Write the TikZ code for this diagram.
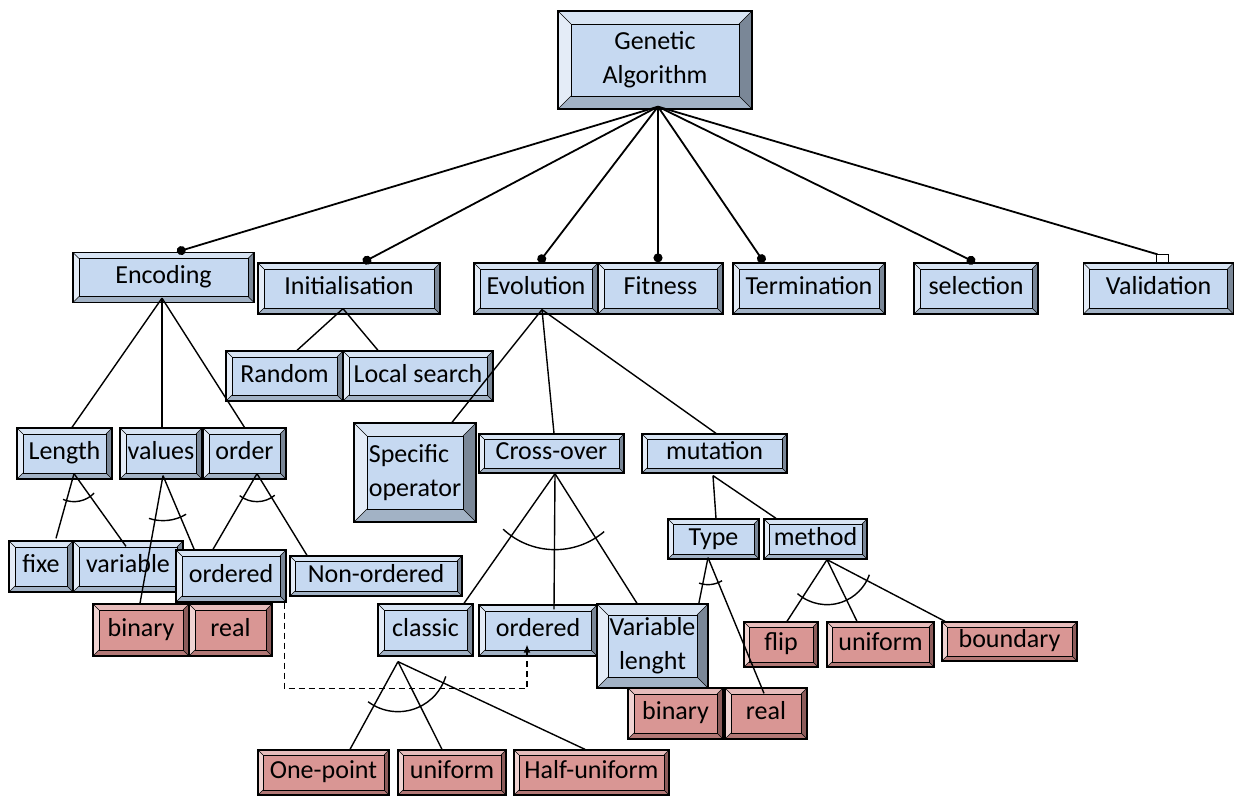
\documentclass[tikz,border=0pt]{standalone}
\usepackage{fontspec}
\setmainfont{Carlito}
\usetikzlibrary{arrows.meta,calc}

\definecolor{blF}{HTML}{C6D9F1}
\definecolor{blT}{HTML}{D8E4F3}
\definecolor{blL}{HTML}{E4ECF7}
\definecolor{blR}{HTML}{7A8797}
\definecolor{blB}{HTML}{A2B2C5}
\definecolor{rdF}{HTML}{D99694}
\definecolor{rdT}{HTML}{E6BCBB}
\definecolor{rdL}{HTML}{F0D3D2}
\definecolor{rdR}{HTML}{8C5B5A}
\definecolor{rdB}{HTML}{B27876}

\pgfdeclarelayer{front}
\pgfsetlayers{main,front}

\tikzset{
  bev/.code={\def\bw{#1}},
  hue/.code={\colorlet{bvF}{#1F}\colorlet{bvT}{#1T}\colorlet{bvL}{#1L}\colorlet{bvR}{#1R}\colorlet{bvB}{#1B}},
  bevel/.style={rectangle, draw=black, line width=1.3pt, inner sep=0pt,
    font=\fontsize{26}{34}\selectfont, bev=6pt, hue=bl,
    path picture={
      \coordinate (o1) at (path picture bounding box.north west);
      \coordinate (o2) at (path picture bounding box.north east);
      \coordinate (o3) at (path picture bounding box.south east);
      \coordinate (o4) at (path picture bounding box.south west);
      \coordinate (i1) at ([shift={(\bw,-\bw)}]o1);
      \coordinate (i2) at ([shift={(-\bw,-\bw)}]o2);
      \coordinate (i3) at ([shift={(-\bw,\bw)}]o3);
      \coordinate (i4) at ([shift={(\bw,\bw)}]o4);
      \fill[bvT] (o1) -- (o2) -- (i2) -- (i1) -- cycle;
      \fill[bvR] (o2) -- (o3) -- (i3) -- (i2) -- cycle;
      \fill[bvB] (o3) -- (o4) -- (i4) -- (i3) -- cycle;
      \fill[bvL] (o4) -- (o1) -- (i1) -- (i4) -- cycle;
      \draw[line width=0.5pt] (o1) -- (i1) (o2) -- (i2) (o3) -- (i3) (o4) -- (i4);
      \draw[line width=0.9pt, fill=bvF] (i1) rectangle (i3);
    }},
  fbox/.style={bevel, text height=18pt, text depth=6pt},
  leaf/.style={fbox, hue=rd},
  link/.style={line width=1.4pt},
  toplink/.style={line width=1.8pt},
  mand/.style={toplink, -{Circle[length=9pt]}},
  req/.style={line width=1.4pt, dash pattern=on 6pt off 4pt, -{Latex[length=8pt,width=7pt]}},
}

% arc of an alternative group: apex, left child, right child, radius
\newcommand\altarc[4]{%
  \draw[link] let \p1=(#1), \p2=(#2), \p3=(#3),
    \n1={atan2(\y2-\y1,\x2-\x1)}, \n2={atan2(\y3-\y1,\x3-\x1)} in
    ($(\p1)+({\n1-8}:#4)$) arc[start angle={\n1-8}, end angle={\n2+8}, radius=#4];
}

\begin{document}
\begin{tikzpicture}[x=1pt,y=-1pt]
  \useasboundingbox (0,0) rectangle (1235,798);

  % features
  \node[bevel, bev=13pt, align=center, minimum width=194pt, minimum height=98pt] (ga) at (655,60) {Genetic\\Algorithm};

  \node[fbox, minimum width=181pt, minimum height=50pt] (enc) at (163.5,277.5) {Encoding};
  \node[fbox, minimum width=182pt, minimum height=51pt] (ini) at (349,288.5) {Initialisation};
  \node[fbox, minimum width=124pt, minimum height=51pt] (evo) at (536,288.5) {Evolution};
  \node[fbox, minimum width=125pt, minimum height=51pt] (fit) at (660.5,288.5) {Fitness};
  \node[fbox, minimum width=152pt, minimum height=51pt] (ter) at (809,288.5) {Termination};
  \node[fbox, minimum width=124pt, minimum height=51pt] (sel) at (976,288.5) {selection};
  \node[fbox, minimum width=150pt, minimum height=51pt] (vali) at (1158.5,288.5) {Validation};

  \node[fbox, minimum width=117pt, minimum height=50pt] (rnd) at (284.5,376) {Random};
  \node[fbox, minimum width=150pt, minimum height=50pt] (loc) at (418,376) {Local search};

  \node[fbox, minimum width=95pt, minimum height=51pt] (len) at (64.5,453.5) {Length};
  \node[fbox, minimum width=82pt, minimum height=51pt] (vals) at (161,453.5) {values};
  \node[fbox, minimum width=83pt, minimum height=51pt] (ordr) at (244.5,453.5) {order};
  \node[fbox, minimum width=64pt, minimum height=51pt] (fixe) at (41,566.5) {fixe};
  \node[fbox, minimum width=110pt, minimum height=51pt] (var) at (128,566.5) {variable};
  \node[fbox, bev=5pt, minimum width=172pt, minimum height=40pt] (nord) at (376,576) {Non-ordered};
  \node[leaf, minimum width=96pt, minimum height=52pt] (binA) at (141,630) {binary};
  \node[leaf, minimum width=83pt, minimum height=52pt] (realA) at (230.5,630) {real};

  \node[bevel, bev=13pt, align=left, minimum width=122pt, minimum height=99pt] (spec) at (415,472.5) {Specific\\operator};
  \node[fbox, bev=5pt, minimum width=145pt, minimum height=39pt] (cross) at (551.5,453.5) {Cross-over};
  \node[fbox, bev=5pt, minimum width=145pt, minimum height=39pt] (mut) at (714.5,453.5) {mutation};

  \node[fbox, minimum width=95pt, minimum height=52pt] (cls) at (425.5,630) {classic};
  \node[fbox, minimum width=118pt, minimum height=51pt] (ordB) at (538,630.5) {ordered};
  \node[leaf, bev=5pt, minimum width=131pt, minimum height=45pt] (onep) at (323.5,772.5) {One-point};
  \node[leaf, bev=5pt, minimum width=108pt, minimum height=45pt] (unifA) at (452,772.5) {uniform};
  \node[leaf, bev=5pt, minimum width=155pt, minimum height=45pt] (half) at (591.5,772.5) {Half-uniform};

  \node[fbox, bev=5pt, minimum width=91pt, minimum height=40pt] (type) at (713.5,539) {Type};
  \node[fbox, bev=5pt, minimum width=103pt, minimum height=40pt] (meth) at (815.5,539) {method};
  \node[leaf, bev=5pt, minimum width=74pt, minimum height=45pt] (flip) at (781,644.5) {flip};
  \node[leaf, bev=5pt, minimum width=107pt, minimum height=45pt] (unifB) at (880.5,644.5) {uniform};
  \node[leaf, bev=5pt, minimum width=135pt, minimum height=39pt] (bnd) at (1009.5,641.5) {boundary};
  \node[leaf, minimum width=95pt, minimum height=51pt] (binB) at (675.5,713.5) {binary};
  \node[leaf, minimum width=82pt, minimum height=51pt] (realB) at (766,713.5) {real};

  \begin{pgfonlayer}{front}
    \node[fbox, minimum width=110pt, minimum height=52pt] (ordA) at (231,576) {ordered};
    \node[bevel, bev=11pt, align=center, minimum width=111pt, minimum height=84pt] (vlen) at (652.5,646) {Variable\\lenght};
  \end{pgfonlayer}

  % root
  \coordinate (gaA) at ([xshift=3pt,yshift=3pt]ga.south);
  \draw[mand] (gaA) -- ([xshift=13.5pt]enc.north);
  \draw[mand] (gaA) -- ([xshift=14pt]ini.north);
  \draw[mand] (gaA) -- ([xshift=3pt]evo.north);
  \draw[mand] (gaA) -- ([xshift=-2.5pt]fit.north);
  \draw[mand] (gaA) -- ([xshift=-45pt]ter.north);
  \draw[mand] (gaA) -- ([xshift=-1pt]sel.north);
  \draw[toplink] (gaA) -- ([xshift=-1pt,yshift=8pt]vali.north);
  \draw[line width=1.3pt, fill=white] ([xshift=-2pt]vali.north) rectangle ([xshift=10pt,yshift=8pt]vali.north);

  % Initialisation
  \coordinate (iniA) at ([xshift=-6pt,yshift=6pt]ini.south);
  \draw[link] (iniA) -- ([xshift=12.5pt]rnd.north);
  \draw[link] (iniA) -- ([xshift=-40pt]loc.north);

  % Encoding
  \coordinate (encA) at ([xshift=-1.5pt,yshift=5pt]enc.south);
  \draw[link] (encA) -- ([xshift=7.5pt]len.north);
  \draw[link] (encA) -- ([xshift=1pt]vals.north);
  \draw[link] (encA) -- (ordr.north);

  \coordinate (lenA) at ([xshift=9.5pt,yshift=6pt]len.south);
  \draw[link] (lenA) -- ([xshift=15pt,yshift=2pt]fixe.north);
  \draw[link] (lenA) -- ([xshift=-2pt,yshift=-6pt]var.north);
  \altarc{lenA}{[xshift=15pt]fixe.north}{[xshift=-2pt]var.north}{28pt}

  \coordinate (valsA) at ([xshift=2pt,yshift=4pt]vals.south);
  \draw[link] (valsA) -- ([xshift=-1pt]binA.north);
  \draw[link] (valsA) -- ([xshift=-13.5pt]realA.north);
  \altarc{valsA}{[xshift=-1pt]binA.north}{[xshift=-13.5pt]realA.north}{45pt}

  \coordinate (ordrA) at ([xshift=12.5pt,yshift=6pt]ordr.south);
  \draw[link] (ordrA) -- ([xshift=-18pt]ordA.north);
  \draw[link] (ordrA) -- ([xshift=-69pt]nord.north);
  \altarc{ordrA}{[xshift=-18pt]ordA.north}{[xshift=-69pt]nord.north}{28pt}

  % Evolution
  \coordinate (evoA) at ([xshift=6pt,yshift=5pt]evo.south);
  \draw[link] (evoA) -- ([xshift=37pt]spec.north);
  \draw[link] (evoA) -- ([xshift=2.5pt]cross.north);
  \draw[link] (evoA) -- ([xshift=1.5pt]mut.north);

  \coordinate (crossA) at ([xshift=3.5pt]cross.south);
  \draw[link] (crossA) -- ([xshift=38.5pt]cls.north);
  \draw[link] (crossA) -- ([xshift=16pt,yshift=-5pt]ordB.north);
  \draw[link] (crossA) -- ([xshift=-15.5pt]vlen.north);
  \altarc{crossA}{[xshift=38.5pt]cls.north}{[xshift=-15.5pt]vlen.north}{76pt}

  \coordinate (clsA) at ([xshift=-27.5pt,yshift=-5pt]cls.south);
  \draw[link] (clsA) -- ([xshift=26.5pt]onep.north);
  \draw[link] (clsA) -- ([xshift=-10pt]unifA.north);
  \draw[link] (clsA) -- ([xshift=-6.5pt]half.north);
  \altarc{clsA}{[xshift=26.5pt]onep.north}{[xshift=-6.5pt]half.north}{50pt}

  \coordinate (mutA) at ([xshift=-1.5pt,yshift=-2pt]mut.south);
  \draw[link] (mutA) -- ([xshift=2.5pt]type.north);
  \draw[link] (mutA) -- ([xshift=-39.5pt]meth.north);

  \coordinate (typeA) at ([xshift=-5.5pt,yshift=2pt]type.south);
  \draw[link] (typeA) -- ([xshift=6.5pt]binB.north);
  \draw[link] (typeA) -- ([xshift=-2pt,yshift=-6pt]realB.north);
  \altarc{typeA}{[xshift=6.5pt]binB.north}{[xshift=-2pt]realB.north}{27pt}

  \coordinate (methA) at ([xshift=11.5pt]meth.south);
  \draw[link] (methA) -- ([xshift=6pt]flip.north);
  \draw[link] (methA) -- ([xshift=-23.5pt]unifB.north);
  \draw[link] (methA) -- ([xshift=-64.5pt]bnd.north);
  \altarc{methA}{[xshift=6pt]flip.north}{[xshift=-64.5pt]bnd.north}{45pt}

  % ordered requires ordered
  \draw[req] ([xshift=-2pt]ordA.south east) -- ++(0,86) -| ([xshift=-11pt,yshift=12pt]ordB.south);
\end{tikzpicture}
\end{document}
